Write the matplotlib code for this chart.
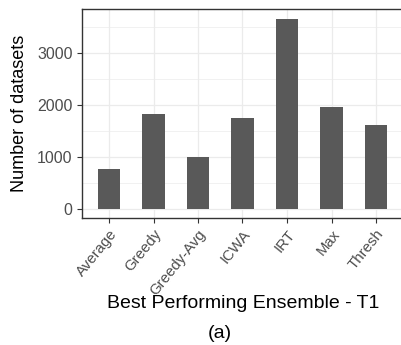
import matplotlib
matplotlib.use("Agg")
import matplotlib.pyplot as plt
from matplotlib.ticker import MultipleLocator
from matplotlib.transforms import ScaledTranslation

plt.rcParams['font.family'] = ['Liberation Sans', 'DejaVu Sans']

# counts of datasets where each ensemble performed best
ensembles = ['Average', 'Greedy', 'Greedy-Avg', 'ICWA', 'IRT', 'Max', 'Thresh']
counts = [770, 1815, 1000, 1745, 3665, 1950, 1612]

W, H = 401, 345
fig = plt.figure(figsize=(W / 100, H / 100), dpi=100)

# panel placed in pixel terms; it runs past the right edge of the figure
step = 44.5
left, top, bottom = 82.3, 9, 218
right = 430
ax = fig.add_axes([left / W, 1 - bottom / H, (right - left) / W, (bottom - top) / H])

pos = list(range(len(ensembles)))
ax.bar(pos, counts, width=0.5, color='#595959', zorder=3)

ymax = max(counts)
ax.set_ylim(-0.05 * ymax, 1.05 * ymax)
ax.set_xlim(-0.6, -0.6 + (right - left) / step)

ax.yaxis.set_major_locator(MultipleLocator(1000))
ax.yaxis.set_minor_locator(MultipleLocator(500))
ax.grid(which='major', color='#EBEBEB', linewidth=0.9, zorder=0)
ax.grid(which='minor', axis='y', color='#EBEBEB', linewidth=0.5, zorder=0)
ax.set_axisbelow(True)

ax.set_xticks(pos)
ax.set_xticklabels(ensembles, rotation=51, ha='right', va='top',
                   rotation_mode='anchor', fontsize=10.8, color='#4D4D4D')
# nudge rotated labels so their ends sit a little right of the ticks
shift = ScaledTranslation(15 / 100, -6 / 100, fig.dpi_scale_trans)
for lab in ax.get_xticklabels():
    lab.set_transform(lab.get_transform() + shift)

ax.tick_params(axis='y', which='major', labelsize=11.5, labelcolor='#4D4D4D',
               color='#333333', length=3.5, width=0.8)
ax.tick_params(axis='x', which='major', color='#333333', length=3.5, width=0.8, pad=3)
ax.tick_params(which='minor', length=0)

for s in ax.spines.values():
    s.set_color('#333333')
    s.set_linewidth(1.0)

fig.text(20 / W, 1 - 113.5 / H, 'Number of datasets', rotation=90,
         ha='center', va='center', fontsize=13)
fig.text(243 / W, 1 - 303 / H, 'Best Performing Ensemble - T1',
         ha='center', va='center', fontsize=14)
fig.text(220 / W, 1 - 333 / H, '(a)', ha='center', va='center', fontsize=14)

fig.savefig('out.png', dpi=100)
